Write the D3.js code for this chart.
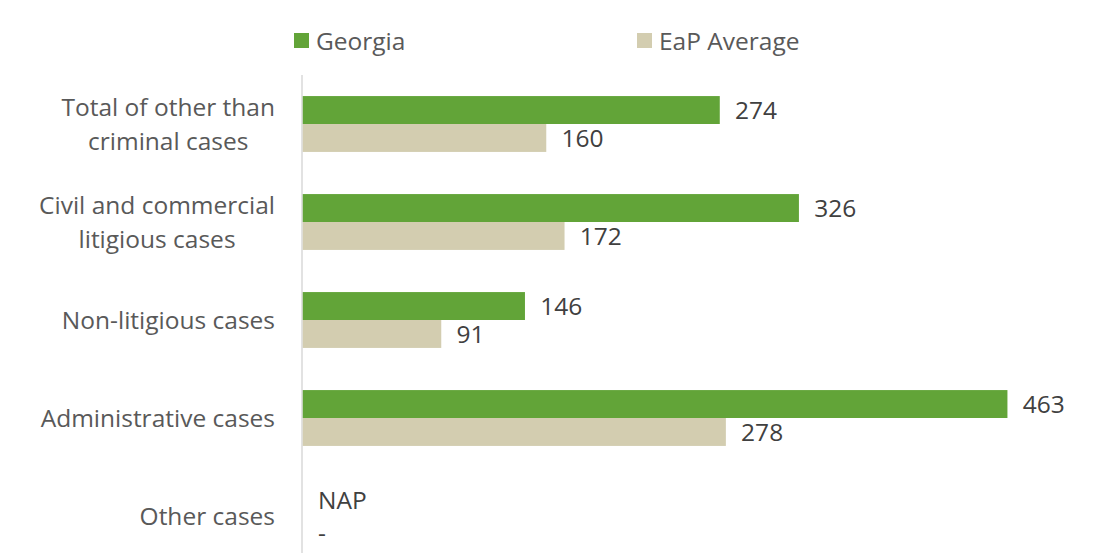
<!DOCTYPE html>
<html>
<head>
<meta charset="utf-8">
<script src="https://cdn.jsdelivr.net/npm/d3@7"></script>
<style>
  html, body { margin: 0; padding: 0; background: #fff; }
  svg { display: block; }
  text { font-family: "Open Sans", sans-serif; }
</style>
</head>
<body>
<svg id="chart" width="1094" height="553"></svg>
<script>
// Case categories (top to bottom), with line breaks for wrapped labels
const categories = [
  ["Total of other than", "criminal cases"],
  ["Civil and commercial", "litigious cases"],
  ["Non-litigious cases"],
  ["Administrative cases"],
  ["Other cases"]
];
const seriesNames = ["Georgia", "EaP Average"];
// null = no value (NAP / -)
const georgia = [274, 326, 146, 463, null];
const eapAverage = [160, 172, 91, 278, null];
const missingLabels = ["NAP", "-"];

const colors = ["#62a438", "#d3cdb0"];
const fontSize = 24.5;

const svg = d3.select("#chart");

const keys = categories.map((c, i) => i);
const y = d3.scaleBand().domain(keys).range([75, 565]).paddingInner(0.43).paddingOuter(0.215);
const x = d3.scaleLinear().domain([0, 500]).range([302, 1063]);
const inner = d3.scaleBand().domain([0, 1]).range([0, y.bandwidth()]);

const series = [georgia, eapAverage];

// Category axis line
svg.append("line")
  .attr("x1", x(0)).attr("x2", x(0))
  .attr("y1", 75).attr("y2", 553)
  .attr("stroke", "#d9d9d9").attr("stroke-width", 1.5);

// Bars and value labels
series.forEach((vals, s) => {
  svg.append("g").selectAll("rect")
    .data(vals.map((v, i) => ({ v, i })).filter(d => d.v != null))
    .join("rect")
    .attr("x", x(0) + 0.75)
    .attr("y", d => y(d.i) + inner(s))
    .attr("width", d => x(d.v) - x(0))
    .attr("height", inner.bandwidth())
    .attr("fill", colors[s]);

  svg.append("g").selectAll("text")
    .data(vals.map((v, i) => ({ v, i })).filter(d => d.v != null))
    .join("text")
    .attr("x", d => x(d.v) + 16)
    .attr("y", d => y(d.i) + inner(s) + inner.bandwidth() / 2)
    .attr("dy", "0.35em")
    .attr("font-size", fontSize)
    .attr("fill", "#404040")
    .text(d => d.v);
});

// Categories without values: NAP / - markers beside the axis
const missing = keys.filter(i => georgia[i] == null && eapAverage[i] == null);
const missingShift = [-1.5, 3.5];
missing.forEach(i => {
  missingLabels.forEach((lbl, s) => {
    svg.append("text")
      .attr("x", x(0) + 16)
      .attr("y", y(i) + inner(s) + inner.bandwidth() / 2 + missingShift[s])
      .attr("dy", "0.35em")
      .attr("font-size", fontSize)
      .attr("fill", "#404040")
      .text(lbl);
  });
});

// Category labels: each block right-aligned to the axis, lines centred within the block
const labelRight = 275;
const labelG = svg.append("g");
categories.forEach((lines, i) => {
  const cy = y(i) + y.bandwidth() / 2;
  const lh = 34;
  const t = labelG.append("text")
    .attr("text-anchor", "middle")
    .attr("font-size", fontSize)
    .attr("fill", "#595959");
  const spans = lines.map((ln, j) => t.append("tspan")
    .attr("y", cy + (j - (lines.length - 1) / 2) * lh)
    .attr("dy", "0.35em")
    .text(ln));
  const maxW = d3.max(spans, sp => sp.node().getComputedTextLength());
  spans.forEach(sp => sp.attr("x", labelRight - maxW / 2));
});

// Legend
const legendX = [294, 637];
seriesNames.forEach((name, s) => {
  const g = svg.append("g").attr("transform", `translate(${legendX[s]},33)`);
  g.append("rect").attr("width", 15).attr("height", 15).attr("fill", colors[s]);
  g.append("text").attr("x", 22).attr("y", 8).attr("dy", "0.35em")
    .attr("font-size", fontSize).attr("fill", "#595959").text(name);
});
</script>
</body>
</html>
